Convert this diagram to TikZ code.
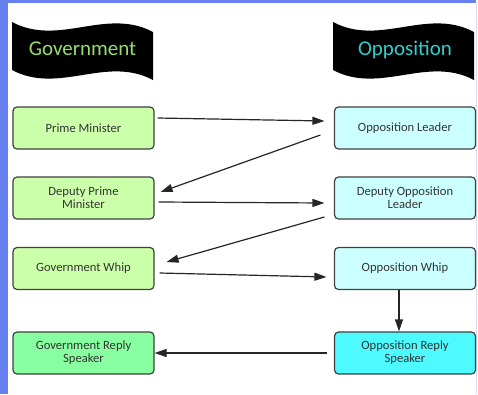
\documentclass[tikz,border=0pt]{standalone}
\usepackage{fontspec}
\setmainfont{Carlito}
\usetikzlibrary{arrows.meta}

\definecolor{govgreen}{RGB}{204,255,170}
\definecolor{govreply}{RGB}{136,255,160}
\definecolor{oppcyan}{RGB}{204,255,255}
\definecolor{oppreply}{RGB}{77,250,255}
\definecolor{frameblue}{RGB}{102,128,240}
\definecolor{frameline}{RGB}{215,220,240}
\definecolor{govtitle}{RGB}{150,220,110}
\definecolor{opptitle}{RGB}{50,205,205}
\definecolor{boxline}{RGB}{64,64,64}
\definecolor{boxtext}{RGB}{51,51,51}

\tikzset{
 role/.style={draw=boxline,line width=1.2pt,rounded corners=4pt,minimum width=141pt,minimum height=42pt,inner sep=0pt,align=center,text=boxtext,font=\fontsize{12.6}{13}\selectfont},
 flagtitle/.style={anchor=base,font=\fontsize{21}{25}\selectfont},
 arr/.style={line width=1.2pt,draw=black!85,-{Triangle[length=12pt,width=8pt]}},
}

\begin{document}
\begin{tikzpicture}[x=1pt,y=-1pt]
 \useasboundingbox (0,0) rectangle (478,394); %全体の大きさ
 \fill[white] (0,0) rectangle (478,394); %背景
 \fill[frameblue] (0,0) rectangle (8,394); %左の青帯
 \fill[frameblue] (0,0) rectangle (476,3); %上の青帯
 \draw[frameline,line width=1.5pt] (476.5,3)--(476.5,394); %右の線
 \fill[black] (12,22) .. controls (59,47) and (106,7) .. (153,32) -- (153,80) .. controls (106,55) and (59,95) .. (12,70) -- cycle; %左の旗
 \fill[black] (333,22) .. controls (380,47) and (427,7) .. (474,32) -- (474,80) .. controls (427,55) and (380,95) .. (333,70) -- cycle; %右の旗
 \node[flagtitle,text=govtitle] (govt) at (82.5,55) {Government}; %与党
 \node[flagtitle,text=opptitle] (oppt) at (405,55) {Opposition}; %野党
 \node[role,fill=govgreen] (PM) at (83.5,128) {Prime Minister}; %首相
 \node[role,fill=govgreen] (DPM) at (83.5,198) {Deputy Prime\\Minister}; %副首相
 \node[role,fill=govgreen] (GW) at (83.5,268.5) {Government Whip}; %与党院内幹事
 \node[role,fill=govreply] (GRS) at (83.5,353) {Government Reply\\Speaker}; %与党返答
 \node[role,fill=oppcyan] (OL) at (405,128) {Opposition Leader}; %野党党首
 \node[role,fill=oppcyan] (DOL) at (405,198) {Deputy Opposition\\Leader}; %野党副党首
 \node[role,fill=oppcyan] (OW) at (405,268.5) {Opposition Whip}; %野党院内幹事
 \node[role,fill=oppreply] (ORS) at (405,353) {Opposition Reply\\Speaker}; %野党返答
 \draw[arr] ([xshift=3pt,yshift=10pt]PM.east)--([xshift=-9.5pt,yshift=7pt]OL.west); %PM→OL
 \draw[arr] ([xshift=-13.5pt,yshift=-7pt]OL.west)--([xshift=6pt,yshift=6pt]DPM.east); %OL→DPM
 \draw[arr] ([xshift=4pt,yshift=-4pt]DPM.east)--([xshift=-9.5pt,yshift=-5pt]DOL.west); %DPM→DOL
 \draw[arr] ([xshift=-9.5pt,yshift=-19pt]DOL.west)--([xshift=12pt,yshift=6.5pt]GW.east); %DOL→GW
 \draw[arr] ([xshift=5pt,yshift=-4.5pt]GW.east)--([xshift=-7.5pt,yshift=-8.5pt]OW.west); %GW→OW
 \draw[arr] ([xshift=-6pt]OW.south)--([xshift=-6pt]ORS.north); %OW→ORS
 \draw[arr] ([xshift=-7pt]ORS.west)--(GRS.east); %ORS→GRS
\end{tikzpicture}
\end{document}
